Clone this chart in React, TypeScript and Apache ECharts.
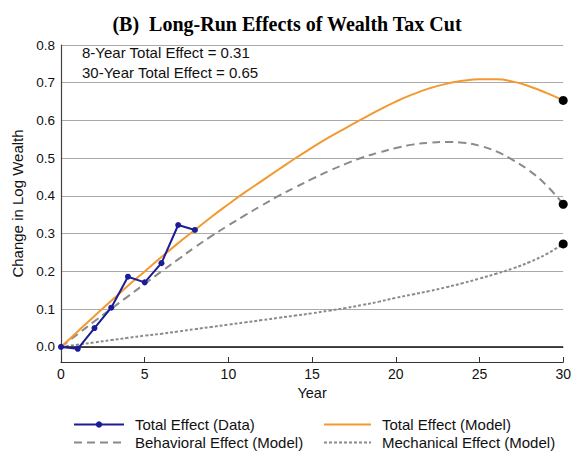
import React, { useEffect, useRef } from "react";
import * as echarts from "echarts";

const dataYears = [0, 1, 2, 3, 4, 5, 6, 7, 8];
const dataTotal = [0.0, -0.005, 0.05, 0.104, 0.186, 0.171, 0.222, 0.323, 0.31];

const modelYears = [0, 1, 2, 3, 4, 5, 6, 7, 8, 9, 10, 11, 12, 13, 14, 15, 16, 17, 18, 19, 20, 21, 22, 23, 24, 25, 26, 27, 28, 29, 30];
const totalModel = [0, 0.041, 0.082, 0.122, 0.162, 0.2, 0.238, 0.275, 0.31, 0.345, 0.378, 0.41, 0.44, 0.47, 0.5, 0.528, 0.555, 0.58, 0.604, 0.628, 0.65, 0.669, 0.685, 0.697, 0.705, 0.709, 0.709, 0.703, 0.69, 0.673, 0.653];
const behavioralModel = [0, 0.034, 0.068, 0.101, 0.134, 0.167, 0.2, 0.232, 0.264, 0.294, 0.322, 0.349, 0.375, 0.4, 0.423, 0.445, 0.466, 0.485, 0.502, 0.515, 0.527, 0.536, 0.541, 0.543, 0.541, 0.533, 0.518, 0.495, 0.466, 0.428, 0.378];
const mechanicalModel = [0, 0.006, 0.012, 0.018, 0.024, 0.03, 0.035, 0.041, 0.047, 0.053, 0.059, 0.065, 0.071, 0.077, 0.083, 0.089, 0.096, 0.103, 0.111, 0.12, 0.13, 0.139, 0.148, 0.158, 0.169, 0.181, 0.194, 0.208, 0.225, 0.246, 0.273];

const yTicks = [0, 0.1, 0.2, 0.3, 0.4, 0.5, 0.6, 0.7, 0.8];
const annotations = ["8-Year Total Effect = 0.31", "30-Year Total Effect = 0.65"];
const titleText = "(B)  Long-Run Effects of Wealth Tax Cut";

const SANS = "'Liberation Sans', Arial, Helvetica, sans-serif";

const zip = (xs: number[], ys: number[]) => xs.map((x, i) => [x, ys[i]]);

const legendBase = {
  top: 416,
  orient: "vertical",
  padding: 0,
  itemHeight: 8,
  itemGap: 1,
  textStyle: { fontFamily: SANS, fontSize: 15, color: "#111", lineHeight: 17, padding: [0, 0, 0, 6] },
};
const noSymbol = { itemStyle: { opacity: 0 } };

export default function App() {
  const ref = useRef<HTMLDivElement>(null);
  useEffect(() => {
    if (!ref.current) return;
    const chart = echarts.init(ref.current, null, { renderer: "svg" });
    const last = modelYears.length - 1;
    chart.setOption({
      animation: false,
      backgroundColor: "#ffffff",
      title: {
        text: titleText,
        left: "center",
        top: 9,
        textStyle: { fontFamily: "'Liberation Serif', 'Times New Roman', serif", fontWeight: "bold", fontSize: 20, color: "#000" },
      },
      grid: { left: 61, right: 9, top: 45, bottom: 90 },
      xAxis: {
        type: "value",
        min: 0,
        max: 30,
        interval: 5,
        name: "Year",
        nameLocation: "middle",
        nameGap: 20,
        nameTextStyle: { fontFamily: SANS, fontSize: 14.5, color: "#111" },
        axisLine: { onZero: false, lineStyle: { color: "#333", width: 1.2 } },
        axisTick: { show: true, inside: true, length: 5, lineStyle: { color: "#333" } },
        axisLabel: { fontFamily: SANS, fontSize: 14, color: "#111", margin: 5 },
        splitLine: { show: false },
      },
      yAxis: {
        type: "value",
        min: -0.04,
        max: 0.8,
        name: "Change in Log Wealth",
        nameLocation: "middle",
        nameGap: 36,
        nameTextStyle: { fontFamily: SANS, fontSize: 15, color: "#111" },
        axisLine: { show: true, lineStyle: { color: "#444", width: 1.2 } },
        axisTick: { show: false, customValues: yTicks },
        axisLabel: {
          customValues: yTicks,
          fontFamily: SANS,
          fontSize: 13.5,
          color: "#111",
          margin: 6,
          formatter: (v: number) => v.toFixed(1),
        },
        splitLine: { show: true, lineStyle: { color: "#aaaaaa", width: 1.2 } },
      },
      legend: [
        {
          ...legendBase,
          left: 73,
          itemWidth: 50,
          data: [{ name: "Total Effect (Data)" }, { name: "Behavioral Effect (Model)", ...noSymbol }],
        },
        {
          ...legendBase,
          left: 323,
          itemWidth: 47,
          data: [
            { name: "Total Effect (Model)", ...noSymbol },
            { name: "Mechanical Effect (Model)", ...noSymbol },
          ],
        },
      ],
      graphic: annotations.map((t, i) => ({
        type: "text",
        left: 82,
        top: 45 + i * 19.5,
        style: { text: t, font: `15px ${SANS}`, fill: "#111" },
      })),
      series: [
        {
          name: "Mechanical Effect (Model)",
          type: "line",
          data: zip(modelYears, mechanicalModel),
          symbol: "none",
          smooth: true,
          color: "#8a8a8a",
          lineStyle: { color: "#8a8a8a", width: 2, type: [3, 2] },
          z: 2,
          markLine: {
            silent: true,
            symbol: "none",
            label: { show: false },
            lineStyle: { color: "#111", width: 1.5, type: "solid" },
            data: [{ yAxis: 0 }],
          },
        },
        {
          name: "Behavioral Effect (Model)",
          type: "line",
          data: zip(modelYears, behavioralModel),
          symbol: "none",
          smooth: true,
          color: "#8a8a8a",
          lineStyle: { color: "#8a8a8a", width: 2, type: [8, 5] },
          z: 3,
        },
        {
          name: "Total Effect (Model)",
          type: "line",
          data: zip(modelYears, totalModel),
          symbol: "none",
          smooth: true,
          color: "#f29a30",
          lineStyle: { color: "#f29a30", width: 2 },
          z: 4,
        },
        {
          name: "Total Effect (Data)",
          type: "line",
          data: zip(dataYears, dataTotal),
          symbol: "circle",
          symbolSize: 6,
          color: "#1c1c96",
          lineStyle: { color: "#1c1c96", width: 2 },
          itemStyle: { color: "#1c1c96" },
          z: 5,
        },
        {
          name: "endpoints",
          type: "scatter",
          data: [
            [modelYears[last], totalModel[last]],
            [modelYears[last], behavioralModel[last]],
            [modelYears[last], mechanicalModel[last]],
          ],
          symbolSize: 9,
          itemStyle: { color: "#000", opacity: 1 },
          clip: false,
          z: 6,
        },
      ],
    });
    return () => chart.dispose();
  }, []);
  return <div ref={ref} style={{ position: "fixed", left: 0, top: 0, width: 574, height: 452 }} />;
}
